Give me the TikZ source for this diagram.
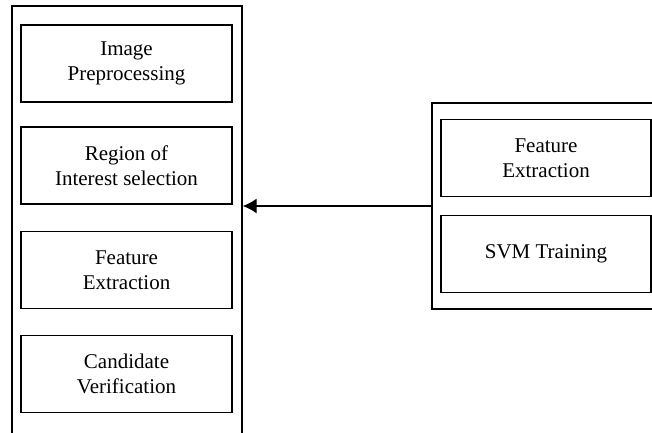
\documentclass[tikz,border=0pt]{standalone}
\usepackage{fontspec}
\setmainfont{Liberation Serif}
\usepackage{tikz}
\usetikzlibrary{positioning, arrows.meta, calc}

\tikzset{
    stage/.style={draw=black, line width=1.4pt, minimum width=211pt, minimum height=77pt,
        align=center, inner sep=0pt, font=\fontsize{21}{25}\selectfont},
    frame/.style={draw=black, line width=1.4pt, inner sep=0pt}
}

\begin{document}
\begin{tikzpicture}[x=1pt, y=-1pt]
    \clip (0,0) rectangle (652,432);

    % outer frames
    \node[frame, minimum width=230pt, minimum height=440pt] (online) at (127,226) {};
    \node[frame, minimum width=232pt, minimum height=206pt] (offline) at (548,206) {};

    % left column
    \foreach \name/\y/\txt in {
        pre/63.5/Image\\Preprocessing,
        roi/165.5/Region of\\Interest selection,
        feat/270/Feature\\Extraction,
        cand/374/Candidate\\Verification}{
        \node[stage] (\name) at (126.5,\y) {\txt};
    }

    % right column
    \node[stage, minimum width=210pt] (trfeat) at (546,158) {Feature\\Extraction};
    \node[stage, minimum width=210pt] (svm) at (546,254) {SVM Training};

    % connector
    \draw[line width=1.4pt, -{Latex[length=14pt, width=15pt]}]
        (offline.west) -- (online.east |- offline.west);
\end{tikzpicture}
\end{document}
